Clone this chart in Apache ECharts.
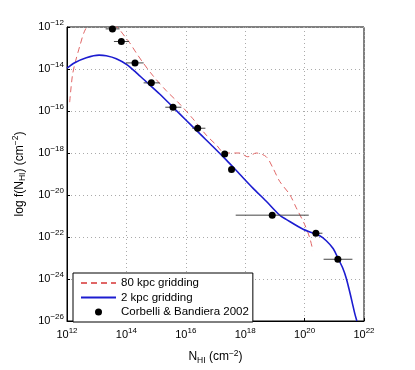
<!DOCTYPE html>
<html><head><meta charset="utf-8">
<script src="https://cdn.jsdelivr.net/npm/echarts@6/dist/echarts.min.js"></script>
<style>html,body{margin:0;padding:0;background:#fff}#c{width:415px;height:370px}</style>
</head><body><div id="c"></div>
<script>
// log10 values
const xTicks = [12, 14, 16, 18, 20, 22];
const yTicks = [-26, -24, -22, -20, -18, -16, -14, -12];

const red80LogN = [12.09,12.18,12.26,12.43,12.59,12.80,13.10,13.45,13.72,13.94,14.11,14.33,14.56,14.90,15.34,15.79,16.24,16.69,17.03,17.31,17.81,18.09,18.37,18.71,18.94,19.16,19.50,19.72,20.00,20.17,20.28];
const red80LogF = [-15.58,-14.33,-13.78,-12.91,-12.20,-11.75,-11.55,-11.75,-12.05,-12.44,-12.75,-13.23,-13.70,-14.33,-15.03,-15.66,-16.37,-17.15,-17.62,-18.00,-18.00,-18.18,-18.00,-18.18,-18.73,-19.35,-19.98,-20.61,-21.40,-22.03,-22.65];

const blue2LogN = [12.00,12.26,12.65,13.08,13.32,13.66,14.00,14.33,14.67,15.12,15.57,16.02,16.47,16.92,17.36,17.81,18.26,18.71,19.16,19.38,19.95,20.51,20.73,20.96,21.12,21.29,21.40,21.50,21.60,21.69,21.76];
const blue2LogF = [-13.96,-13.70,-13.46,-13.34,-13.37,-13.51,-13.78,-14.17,-14.61,-15.19,-15.82,-16.45,-17.08,-17.70,-18.33,-19.00,-19.67,-20.30,-20.96,-21.16,-21.63,-21.94,-22.18,-22.55,-23.00,-23.50,-23.95,-24.50,-25.10,-25.65,-26.00];

const obsLogN = [13.53,13.83,14.29,14.84,15.57,16.40,17.31,17.54,18.91,20.38,21.12];
const obsLogF = [-12.09,-12.69,-13.71,-14.66,-15.82,-16.82,-18.05,-18.79,-20.96,-21.82,-23.06];
const obsErrLo = [13.30,13.58,13.98,14.58,15.31,16.22,17.31,17.54,17.68,20.28,20.64];
const obsErrHi = [13.77,14.09,14.58,15.12,15.85,16.66,17.31,17.54,20.14,20.60,21.61];

const zip = (a, b) => a.map((v, i) => [v, b[i]]);
const FONT = '"Liberation Sans", Arial, sans-serif';
const fmtPow = v => '{b|10}{sup|' + String(Math.round(v)).replace('-', '\u2212') + '}';
const richTick = {
  b: {fontSize: 11, fontFamily: FONT, color: '#000'},
  sup: {fontSize: 8, fontFamily: FONT, color: '#000', padding: [0, 0, 8, 0]}
};
const richName = {
  t: {fontSize: 12, fontFamily: FONT, color: '#000'},
  sub: {fontSize: 8.5, fontFamily: FONT, color: '#000', padding: [7, 0, 0, 0]},
  sup: {fontSize: 8.5, fontFamily: FONT, color: '#000', padding: [0, 0, 7, 0]}
};

const chart = echarts.init(document.getElementById('c'), null, {renderer: 'canvas'});
chart.setOption({
  animation: false,
  backgroundColor: '#fff',
  grid: {left: 67, right: 51, top: 27, bottom: 46, show: true, borderColor: '#000', borderWidth: 1, backgroundColor: 'transparent'},
  xAxis: {
    type: 'value', min: xTicks[0], max: xTicks[xTicks.length - 1], interval: 2,
    axisLine: {lineStyle: {color: '#000', width: 1}},
    axisTick: {inside: true, length: 3, lineStyle: {color: '#000'}},
    splitLine: {show: true, lineStyle: {type: [1, 3], color: '#aaa', width: 1}},
    axisLabel: {formatter: fmtPow, rich: richTick, margin: 6, showMinLabel: true, showMaxLabel: true},
    name: '{t|N}{sub|HI}{t| (cm}{sup|\u22122}{t|)}',
    nameLocation: 'middle', nameGap: 28,
    nameTextStyle: {rich: richName}
  },
  yAxis: {
    type: 'value', min: yTicks[0], max: yTicks[yTicks.length - 1], interval: 2,
    axisLine: {lineStyle: {color: '#000', width: 1}},
    axisTick: {inside: true, length: 3, lineStyle: {color: '#000'}},
    splitLine: {show: true, lineStyle: {type: [1, 3], color: '#aaa', width: 1}},
    axisLabel: {formatter: fmtPow, rich: richTick, margin: 3, showMinLabel: true, showMaxLabel: true},
    name: '{t|log f(N}{sub|HI}{t|) (cm}{sup|\u22122}{t|)}',
    nameLocation: 'middle', nameGap: 32, nameRotate: 90,
    nameTextStyle: {rich: richName}
  },
  legend: {
    orient: 'vertical', left: 73, top: 273,
    backgroundColor: '#fff', borderColor: '#000', borderWidth: 1,
    padding: [3, 4, 3, 7], itemGap: 0.5, itemWidth: 35, itemHeight: 7,
    textStyle: {fontSize: 11.5, fontFamily: FONT, color: '#000', lineHeight: 14},
    data: [
      {name: '80 kpc gridding', itemStyle: {opacity: 0}},
      {name: '2 kpc gridding', itemStyle: {opacity: 0}},
      {name: 'Corbelli & Bandiera 2002', icon: 'circle', itemStyle: {color: '#000'}}
    ]
  },
  series: [
    {
      name: '80 kpc gridding', type: 'line', data: zip(red80LogN, red80LogF),
      symbol: 'none', smooth: 0.3, clip: true,
      lineStyle: {color: '#e06666', width: 1, type: [6, 4]}, itemStyle: {color: '#e06666'}, z: 2
    },
    {
      name: '2 kpc gridding', type: 'line', data: zip(blue2LogN, blue2LogF),
      symbol: 'none', smooth: 0.3, clip: true,
      lineStyle: {color: '#1c1cd0', width: 1.6}, itemStyle: {color: '#1c1cd0'}, z: 3
    },
    {
      name: 'errbars', type: 'custom', z: 4,
      data: obsLogN.map((v, i) => [v, obsLogF[i], obsErrLo[i], obsErrHi[i]]),
      encode: {x: [0, 2, 3], y: 1},
      renderItem: (params, api) => {
        const y = api.value(1);
        const p1 = api.coord([api.value(2), y]);
        const p2 = api.coord([api.value(3), y]);
        return {type: 'line', shape: {x1: p1[0], y1: p1[1], x2: p2[0], y2: p2[1]},
                style: {stroke: '#444', lineWidth: 1}};
      }
    },
    {
      name: 'Corbelli & Bandiera 2002', type: 'scatter', data: zip(obsLogN, obsLogF),
      symbol: 'circle', symbolSize: 7, itemStyle: {color: '#000', opacity: 1}, z: 5
    }
  ]
});
</script></body></html>
